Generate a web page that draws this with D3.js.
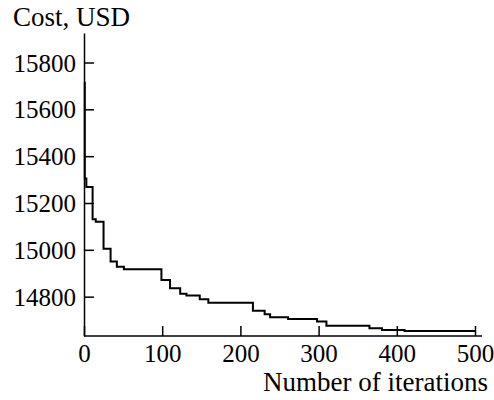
<!DOCTYPE html>
<html>
<head>
<meta charset="utf-8">
<script src="https://cdn.jsdelivr.net/npm/d3@7"></script>
<style>
  body { margin: 0; background: #fff; }
  text { font-family: "Liberation Serif", "Times New Roman", serif; fill: #000; }
</style>
</head>
<body>
<script>
// cost vs iteration, best-so-far (step curve)
var stepIterations = [0, 1, 3, 11, 15, 25, 34, 42, 51, 99, 110, 123, 131, 148, 159, 216, 231, 238, 261, 298, 310, 365, 381, 410, 500];
var stepCosts = [15714, 15305, 15268, 15131, 15120, 15005, 14950, 14928, 14917, 14871, 14836, 14812, 14805, 14789, 14774, 14740, 14725, 14712, 14705, 14694, 14676, 14665, 14658, 14653, 14653];
var xTicks = [0, 100, 200, 300, 400, 500];
var yTicks = [14800, 15000, 15200, 15400, 15600, 15800];

var svg = d3.select("body").append("svg").attr("width", 494).attr("height", 400);

var xScale = d3.scaleLinear().domain([0, 500]).range([84, 475]);
var yScale = d3.scaleLinear().domain([14632, 15926]).range([336, 33]);

// y axis
var yAxis = d3.axisLeft(yScale).tickValues(yTicks).tickSize(-10).tickSizeOuter(0).tickPadding(8).tickFormat(d3.format("d"));
var gy = svg.append("g").attr("transform", "translate(84,0)").call(yAxis);
gy.selectAll("text").style("font-size", "25px").attr("dy", "0.34em");

// x axis
var xAxis = d3.axisBottom(xScale).tickValues(xTicks).tickSize(-10).tickSizeOuter(0).tickPadding(9).tickFormat(d3.format("d"));
var gx = svg.append("g").attr("transform", "translate(0,336)").call(xAxis);
gx.selectAll("text").style("font-size", "25px").attr("dy", "0.68em");
gx.select(".domain").remove();
svg.append("line")
  .attr("x1", xScale(0)).attr("x2", xScale(500) + 7)
  .attr("y1", 336).attr("y2", 336)
  .style("stroke", "#000").style("stroke-width", "1.5px");

svg.selectAll(".domain, .tick line").style("stroke", "#000").style("stroke-width", "1.5px");

// curve
var pts = stepIterations.map(function(d, i){ return [d, stepCosts[i]]; });
var line = d3.line()
  .x(function(d){ return xScale(d[0]); })
  .y(function(d){ return yScale(d[1]); })
  .curve(d3.curveStepAfter);
svg.append("path")
  .datum(pts)
  .attr("d", line)
  .style("fill", "none")
  .style("stroke", "#000")
  .style("stroke-width", "2px");

// axis titles
svg.append("text").attr("x", 13).attr("y", 26).style("font-size", "27px").text("Cost, USD");
svg.append("text").attr("x", 488).attr("y", 391).attr("text-anchor", "end").style("font-size", "27px").text("Number of iterations");
</script>
</body>
</html>
